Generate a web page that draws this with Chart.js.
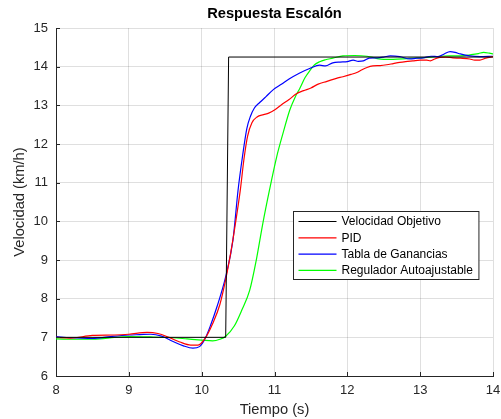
<!DOCTYPE html>
<html>
<head>
<meta charset="utf-8">
<script src="https://cdn.jsdelivr.net/npm/chart.js@4/dist/chart.umd.min.js"></script>
<style>
    html, body { margin: 0; padding: 0; background: #fff; }
    #wrap { width: 501px; height: 419px; }
</style>
</head>
<body>
<div id="wrap"><canvas id="stepChart"></canvas></div>
<script>
// Data (t in s, v in km/h)
const seriesLabels = ['Velocidad Objetivo', 'PID', 'Tabla de Ganancias', 'Regulador Autoajustable'];
const seriesColors = ['#000000', '#ff0000', '#0000ff', '#00ff00'];

const targetT = [8, 10.33, 10.37, 14];
const targetV = [7, 7, 14.25, 14.25];

const pidT = [8.0, 8.2, 8.5, 8.8, 9.0, 9.25, 9.4, 9.55, 9.7, 9.85, 9.95, 10.05, 10.15, 10.25, 10.33, 10.40, 10.46, 10.53, 10.58, 10.63, 10.69, 10.76, 10.85, 10.92, 11.0, 11.1, 11.2, 11.3, 11.4, 11.5, 11.6, 11.72, 11.85, 11.94, 12.05, 12.13, 12.2, 12.27, 12.35, 12.45, 12.54, 12.63, 12.72, 12.8, 12.9, 13.0, 13.09, 13.14, 13.2, 13.27, 13.35, 13.45, 13.55, 13.68, 13.75, 13.82, 13.9, 14.0];
const pidV = [7.00, 6.98, 7.05, 7.06, 7.08, 7.13, 7.10, 7.00, 6.88, 6.80, 6.80, 6.98, 7.35, 7.85, 8.5, 9.2, 9.9, 10.8, 11.6, 12.2, 12.55, 12.70, 12.76, 12.80, 12.88, 13.02, 13.15, 13.30, 13.38, 13.45, 13.55, 13.62, 13.70, 13.74, 13.80, 13.85, 13.92, 13.98, 14.02, 14.03, 14.05, 14.08, 14.11, 14.13, 14.15, 14.17, 14.17, 14.15, 14.20, 14.24, 14.25, 14.23, 14.22, 14.20, 14.17, 14.17, 14.22, 14.26];

const tablaT = [8.0, 8.2, 8.5, 8.75, 9.0, 9.15, 9.3, 9.45, 9.6, 9.75, 9.88, 9.97, 10.05, 10.12, 10.21, 10.33, 10.43, 10.50, 10.56, 10.62, 10.67, 10.72, 10.80, 10.88, 10.98, 11.1, 11.2, 11.34, 11.49, 11.62, 11.7, 11.8, 11.9, 12.0, 12.08, 12.15, 12.22, 12.3, 12.41, 12.5, 12.59, 12.72, 12.86, 12.95, 13.04, 13.15, 13.25, 13.33, 13.41, 13.48, 13.55, 13.68, 13.82, 14.0];
const tablaV = [7.02, 6.99, 6.97, 7.02, 7.06, 7.07, 7.08, 7.03, 6.90, 6.78, 6.72, 6.76, 6.98, 7.3, 7.79, 8.57, 9.52, 10.81, 11.67, 12.40, 12.72, 12.92, 13.08, 13.22, 13.40, 13.55, 13.68, 13.83, 13.96, 14.04, 14.02, 14.10, 14.12, 14.13, 14.17, 14.14, 14.15, 14.22, 14.23, 14.25, 14.28, 14.26, 14.20, 14.22, 14.23, 14.27, 14.26, 14.33, 14.39, 14.37, 14.33, 14.28, 14.26, 14.27];

const autoT = [8.0, 8.3, 8.6, 8.8, 9.0, 9.3, 9.6, 9.8, 10.0, 10.15, 10.25, 10.33, 10.45, 10.55, 10.66, 10.75, 10.84, 10.93, 11.03, 11.12, 11.21, 11.28, 11.35, 11.42, 11.49, 11.55, 11.62, 11.70, 11.80, 11.94, 12.1, 12.27, 12.35, 12.41, 12.5, 12.63, 12.82, 13.0, 13.15, 13.27, 13.4, 13.55, 13.7, 13.8, 13.87, 13.95, 14.0];
const autoV = [6.96, 6.95, 6.96, 7.00, 7.02, 7.01, 6.99, 6.96, 6.93, 6.91, 6.95, 7.03, 7.3, 7.7, 8.22, 9.0, 9.95, 10.8, 11.67, 12.3, 12.88, 13.2, 13.45, 13.72, 13.91, 14.05, 14.13, 14.18, 14.22, 14.28, 14.29, 14.27, 14.24, 14.21, 14.19, 14.19, 14.21, 14.23, 14.25, 14.27, 14.28, 14.28, 14.31, 14.34, 14.37, 14.35, 14.33];

const xTicks = [8, 9, 10, 11, 12, 13, 14];
const yTicks = [6, 7, 8, 9, 10, 11, 12, 13, 14, 15];

function toPoints(ts, vs) {
    return ts.map((t, i) => ({ x: t, y: vs[i] }));
}

const textColor = '#262626';
const fontFamily = '"Liberation Sans", Arial, sans-serif';

// inward tick marks, MATLAB style
const innerTicks = {
    id: 'innerTicks',
    afterDatasetsDraw(chart) {
        const { ctx, chartArea, scales } = chart;
        ctx.save();
        ctx.strokeStyle = textColor;
        ctx.lineWidth = 1;
        ctx.beginPath();
        xTicks.forEach(v => {
            const px = Math.round(scales.x.getPixelForValue(v)) + 0.5;
            ctx.moveTo(px, chartArea.bottom);
            ctx.lineTo(px, chartArea.bottom - 4);
        });
        yTicks.forEach(v => {
            const py = Math.round(scales.y.getPixelForValue(v)) + 0.5;
            ctx.moveTo(chartArea.left, py);
            ctx.lineTo(chartArea.left + 4, py);
        });
        ctx.stroke();
        ctx.restore();
    }
};

// legend box inside the plot, lower right
const boxLegend = {
    id: 'boxLegend',
    afterDraw(chart) {
        const { ctx, chartArea } = chart;
        ctx.save();
        ctx.font = '12px ' + fontFamily;
        const widths = chart.data.datasets.map(d => ctx.measureText(d.label).width);
        const w = 48 + Math.max(...widths) + 6;
        const h = 68;
        const left = Math.round(chartArea.right - 15 - w) + 0.5;
        const top = Math.round(chartArea.bottom - 97 - h) + 0.5;
        ctx.fillStyle = '#ffffff';
        ctx.fillRect(left, top, w, h);
        ctx.strokeStyle = '#262626';
        ctx.lineWidth = 1;
        ctx.strokeRect(left, top, w, h);
        chart.data.datasets.forEach((d, i) => {
            const y = top + 10 + i * 16.3;
            ctx.strokeStyle = d.borderColor;
            ctx.lineWidth = 1.2;
            ctx.beginPath();
            ctx.moveTo(left + 5, y);
            ctx.lineTo(left + 43, y);
            ctx.stroke();
            ctx.fillStyle = '#000000';
            ctx.textBaseline = 'middle';
            ctx.fillText(d.label, left + 48, y + 0.5);
        });
        ctx.restore();
    }
};

const stepCtx = document.getElementById('stepChart').getContext('2d');
const stepChart = new Chart(stepCtx, {
    type: 'line',
    data: {
        datasets: [
            { label: seriesLabels[0], data: toPoints(targetT, targetV), borderColor: seriesColors[0], borderWidth: 1, tension: 0 },
            { label: seriesLabels[1], data: toPoints(pidT, pidV), borderColor: seriesColors[1], borderWidth: 1.2, cubicInterpolationMode: 'monotone' },
            { label: seriesLabels[2], data: toPoints(tablaT, tablaV), borderColor: seriesColors[2], borderWidth: 1.2, cubicInterpolationMode: 'monotone' },
            { label: seriesLabels[3], data: toPoints(autoT, autoV), borderColor: seriesColors[3], borderWidth: 1.2, cubicInterpolationMode: 'monotone' }
        ]
    },
    options: {
        responsive: true,
        maintainAspectRatio: false,
        animation: false,
        elements: { point: { radius: 0 } },
        layout: { padding: { left: 0, right: 8, top: 0, bottom: 0 } },
        plugins: {
            legend: { display: false },
            tooltip: { enabled: false },
            title: {
                display: true,
                text: 'Respuesta Escalón',
                fullSize: false,
                color: '#000000',
                font: { family: fontFamily, size: 14.7, weight: 'bold' },
                padding: { top: 5, bottom: 5.4 }
            }
        },
        scales: {
            x: {
                type: 'linear',
                min: 8,
                max: 14,
                afterFit: scale => {
                    scale.height = 43;
                    scale.paddingLeft = 0;
                    scale.paddingRight = 0;
                },
                afterBuildTicks: scale => { scale.ticks = xTicks.map(v => ({ value: v })); },
                ticks: { color: textColor, padding: 7, font: { family: fontFamily, size: 13 } },
                grid: { color: 'rgba(38,38,38,0.15)', drawTicks: false },
                border: { color: textColor, width: 1 },
                title: {
                    display: true,
                    text: 'Tiempo (s)',
                    color: textColor,
                    font: { family: fontFamily, size: 14.7 },
                    padding: { top: 0, bottom: 0.5 }
                }
            },
            y: {
                min: 6,
                max: 15,
                afterFit: scale => { scale.width = 56; },
                afterBuildTicks: scale => { scale.ticks = yTicks.map(v => ({ value: v })); },
                ticks: { color: textColor, padding: 8, font: { family: fontFamily, size: 13 } },
                grid: { color: 'rgba(38,38,38,0.15)', drawTicks: false },
                border: { color: textColor, width: 1 },
                title: {
                    display: true,
                    text: 'Velocidad (km/h)',
                    color: textColor,
                    font: { family: fontFamily, size: 14.7 },
                    padding: { top: 11, bottom: 0 }
                }
            }
        }
    },
    plugins: [innerTicks, boxLegend]
});
</script>
</body>
</html>
